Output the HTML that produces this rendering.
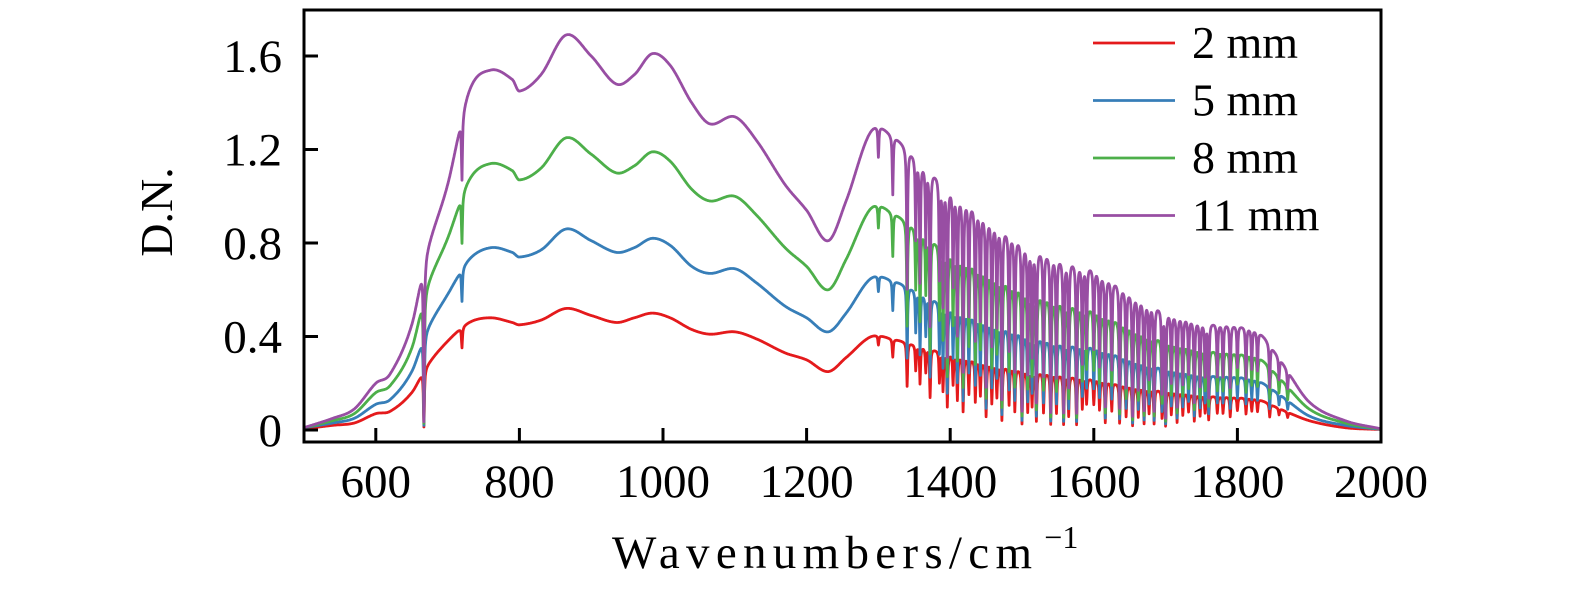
<!DOCTYPE html>
<html><head><meta charset="utf-8"><style>
body{margin:0;background:#fff}
svg text{font-family:"Liberation Serif",serif;fill:#000}
</style></head><body>
<svg id="chart" width="1575" height="591">
<g id="plot"></g>
</svg>
<script>
const wavenumbers=[500,540,570,600,620,650,670,700,730,760,790,800,830,865,900,935,960,985,1010,1040,1065,1100,1130,1170,1200,1230,1255,1290,1320,1360,1400,1450,1500,1550,1600,1650,1700,1750,1800,1830,1860,1900,1950,2000];
const series11=[0.01,0.05,0.09,0.2,0.24,0.45,0.75,1.05,1.45,1.54,1.5,1.45,1.52,1.69,1.6,1.48,1.52,1.61,1.56,1.4,1.31,1.34,1.24,1.05,0.94,0.81,0.98,1.28,1.26,1.15,1.05,0.93,0.82,0.75,0.7,0.6,0.52,0.47,0.45,0.42,0.3,0.12,0.04,0.005];
const series8=[0.01,0.04,0.07,0.16,0.19,0.35,0.6,0.82,1.07,1.14,1.11,1.07,1.12,1.25,1.18,1.1,1.13,1.19,1.15,1.03,0.98,1.0,0.92,0.78,0.7,0.6,0.73,0.95,0.93,0.85,0.77,0.69,0.61,0.56,0.52,0.45,0.39,0.35,0.33,0.31,0.22,0.09,0.03,0.004];
const series5=[0.01,0.03,0.05,0.11,0.13,0.25,0.42,0.58,0.73,0.78,0.76,0.74,0.77,0.86,0.81,0.76,0.78,0.82,0.79,0.7,0.67,0.69,0.63,0.53,0.48,0.42,0.5,0.65,0.64,0.59,0.53,0.47,0.42,0.38,0.36,0.31,0.27,0.24,0.23,0.21,0.15,0.06,0.02,0.003];
const series2=[0.005,0.02,0.03,0.07,0.08,0.16,0.27,0.38,0.46,0.48,0.46,0.45,0.47,0.52,0.49,0.46,0.48,0.5,0.48,0.43,0.41,0.42,0.39,0.33,0.3,0.25,0.31,0.4,0.39,0.36,0.33,0.29,0.26,0.24,0.22,0.19,0.17,0.15,0.14,0.13,0.09,0.04,0.01,0.002];
const linePos=[667,720,1300,1320,1340,1352,1358,1366,1372,1385,1390,1396,1404,1410,1418,1426,1435,1442,1450,1458,1465,1472,1482,1490,1500,1508,1514,1520,1530,1540,1548,1558,1565,1576,1584,1590,1600,1608,1616,1625,1636,1645,1654,1662,1670,1677,1684,1695,1700,1708,1716,1724,1732,1740,1748,1755,1760,1772,1780,1790,1800,1812,1820,1828,1845,1858,1870];
const lineDepth=[0.95,0.2,0.1,0.2,0.5,0.3,0.45,0.3,0.6,0.4,0.5,0.7,0.4,0.6,0.75,0.5,0.6,0.5,0.8,0.6,0.5,0.85,0.6,0.7,0.9,0.7,0.6,0.85,0.7,0.9,0.7,0.9,0.75,0.9,0.6,0.5,0.5,0.6,0.85,0.6,0.85,0.7,0.9,0.7,0.85,0.6,0.85,0.7,0.9,0.6,0.8,0.6,0.5,0.75,0.6,0.5,0.7,0.5,0.5,0.6,0.4,0.5,0.4,0.4,0.5,0.3,0.3];
const seriesList=[series2,series5,series8,series11];
const seriesNames=["2 mm","5 mm","8 mm","11 mm"];
const colors=["#e41a1c","#377eb8","#4daf4a","#984ea3"];
const xTicks=[600,800,1000,1200,1400,1600,1800,2000];
const yTicks=[0,0.4,0.8,1.2,1.6];
const yTickLabels=["0","0.4","0.8","1.2","1.6"];

const L=304,R=1381,T=10,B=442;
const X=w=>L+(w-500)/1500*(R-L);
const Y=v=>430-v/0.4*93.5;
const NS="http://www.w3.org/2000/svg";
const svg=document.getElementById('chart');
const g=document.getElementById('plot');
function mk(t,a,p){const e=document.createElementNS(NS,t);for(const k in a)e.setAttribute(k,a[k]);(p||svg).appendChild(e);return e;}
function interp(arr,w){
  const n=wavenumbers.length;
  for(let i=0;i<n-1;i++){
    if(w<=wavenumbers[i+1]){
      const x0=wavenumbers[i],x1=wavenumbers[i+1],h=x1-x0,f=(w-x0)/h;
      const y0=arr[i],y1=arr[i+1];
      const m0=i>0?(arr[i+1]-arr[i-1])/(wavenumbers[i+1]-wavenumbers[i-1])*h:(y1-y0);
      const m1=i<n-2?(arr[i+2]-arr[i])/(wavenumbers[i+2]-wavenumbers[i])*h:(y1-y0);
      const f2=f*f,f3=f2*f;
      return (2*f3-3*f2+1)*y0+(f3-2*f2+f)*m0+(-2*f3+3*f2)*y1+(f3-f2)*m1;
    }
  }
  return arr[n-1];
}
function trans(w){let t=1;for(let j=0;j<linePos.length;j++){const d=(w-linePos[j])/0.8;t*=1-lineDepth[j]/(1+d*d);}return t;}
seriesList.forEach((s,si)=>{
  let d="";
  for(let w=500;w<=2000;w+=0.5){const v=interp(s,w)*trans(w);d+=(w===500?"M":"L")+X(w).toFixed(1)+" "+Y(v).toFixed(1);}
  const p=mk('path',{d:d,fill:'none',stroke:colors[si],'stroke-width':2.8,'stroke-linejoin':'round'},g);
  
  
});
const fr=mk('rect',{x:L,y:T,width:R-L,height:B-T,fill:'none',stroke:'#000','stroke-width':3});


xTicks.forEach(t=>{
  mk('line',{x1:X(t),x2:X(t),y1:B,y2:B-14,stroke:'#000','stroke-width':3});
  const tx=mk('text',{x:X(t),y:497,'text-anchor':'middle','font-size':47});
  tx.textContent=t;
  
  
});
yTicks.forEach((t,i)=>{
  mk('line',{x1:L,x2:L+14,y1:Y(t),y2:Y(t),stroke:'#000','stroke-width':3});
  const tx=mk('text',{x:L-22,y:Y(t)+16,'text-anchor':'end','font-size':47});
  tx.textContent=yTickLabels[i];
  
  
});
seriesNames.forEach((n,i)=>{
  const y=43+i*57.5;
  const ln=mk('line',{x1:1093,x2:1175,y1:y,y2:y,stroke:colors[i],'stroke-width':2.8});
  
  
  const tx=mk('text',{x:1192,y:y+15,'font-size':46});
  tx.textContent=n;
  
  
});
const yl=mk('text',{x:172,y:212,'text-anchor':'middle','font-size':46,transform:'rotate(-90 172 212)'});
yl.textContent="D.N.";


const xl=mk('text',{x:612,y:568,'font-size':47});
xl.innerHTML='<tspan textLength="420" lengthAdjust="spacing">Wavenumbers/cm</tspan><tspan dx="6" dy="-20" font-size="32">−1</tspan>';


</script>
</body></html>
